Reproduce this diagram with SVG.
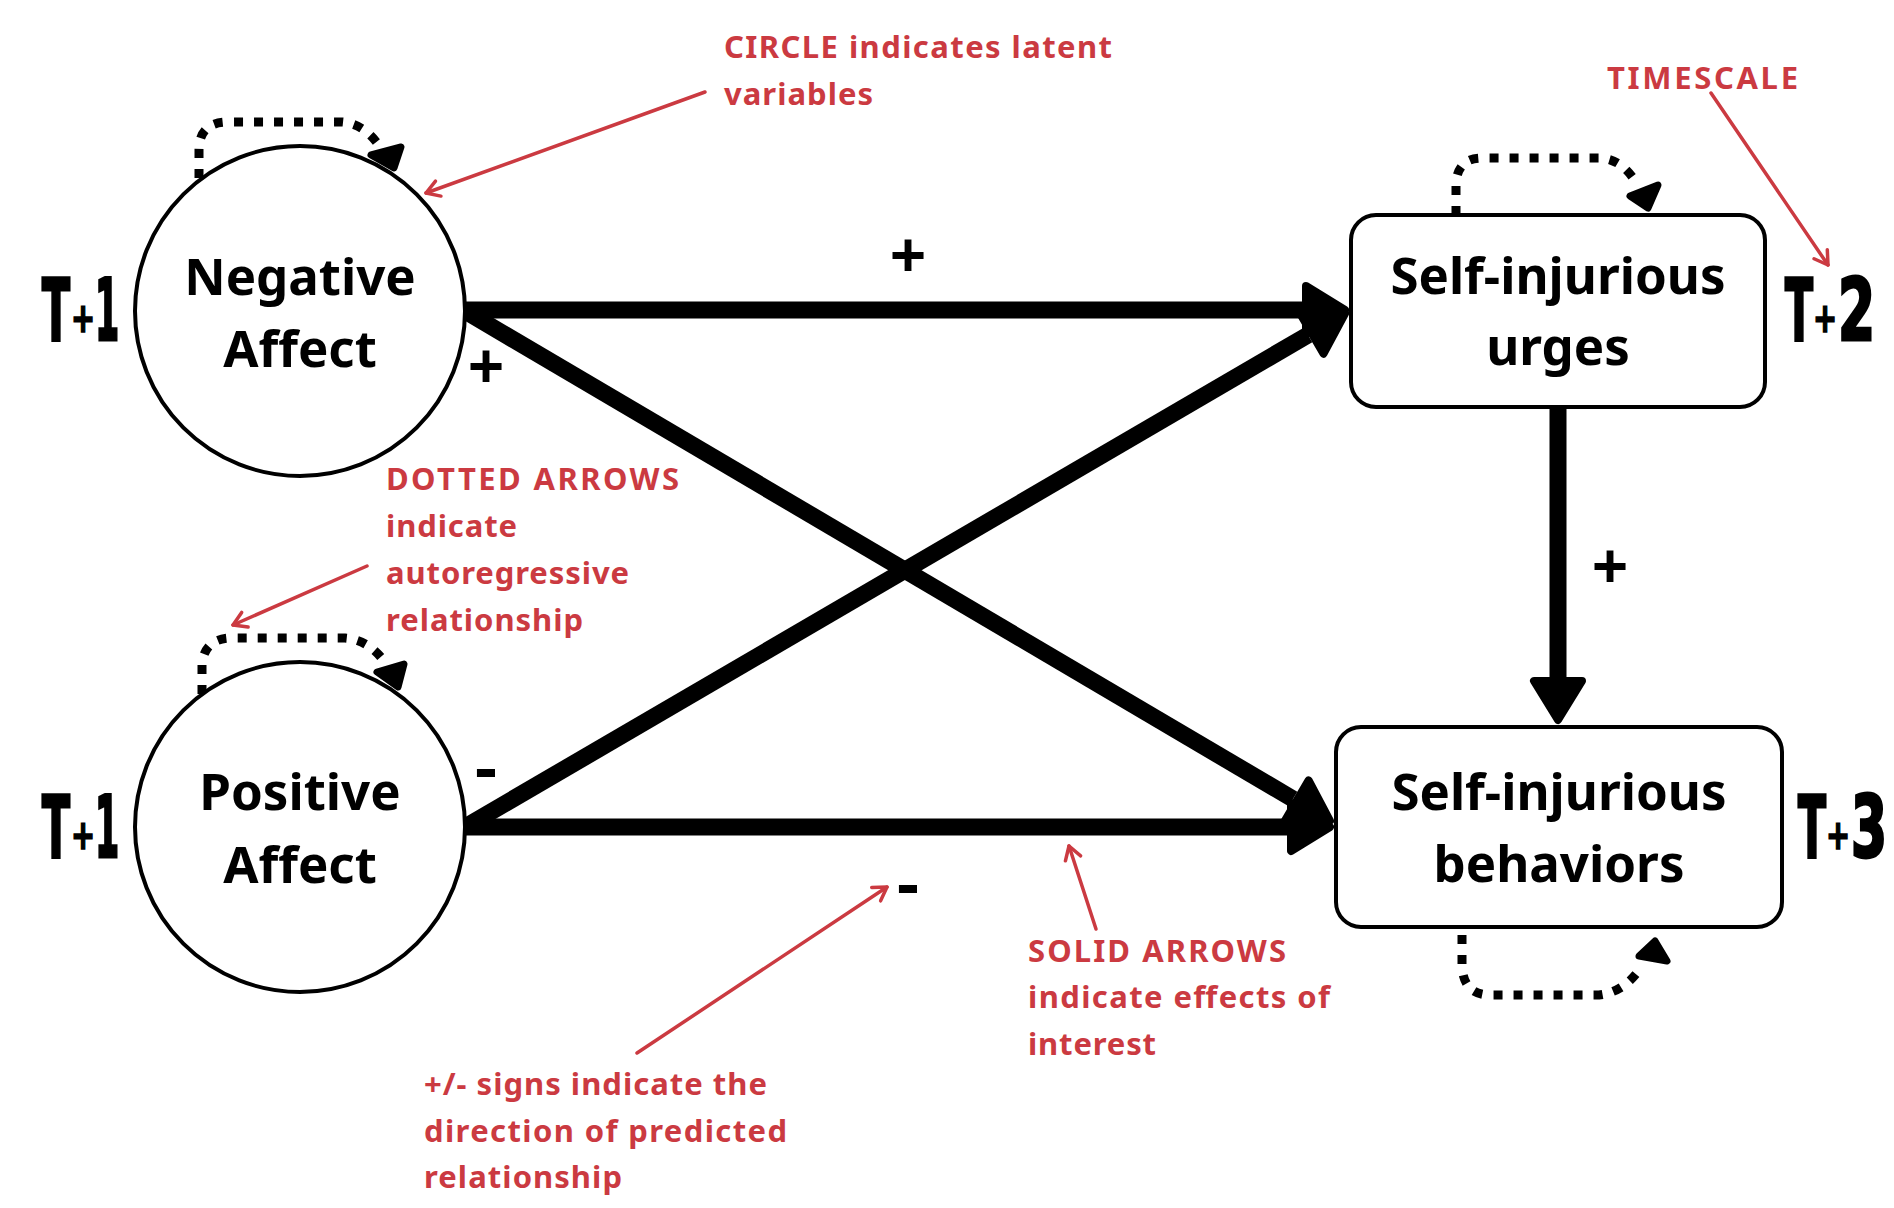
<svg xmlns="http://www.w3.org/2000/svg" width="1894" height="1208" viewBox="0 0 1894 1208">
<style>
.node{fill:#fff;stroke:#000;stroke-width:4}
.lbl{font-family:"Noto Sans","Open Sans",sans-serif;font-weight:700;font-size:51px;fill:#000;text-anchor:middle}
.tl{font-family:"DejaVu Sans Condensed","DejaVu Sans",sans-serif;font-weight:700;font-size:86px;fill:#000;stroke:#000;stroke-width:3}
.tp{font-family:"DejaVu Sans Condensed","DejaVu Sans",sans-serif;font-weight:700;font-size:40px;fill:#000;stroke:#000;stroke-width:1.5}
.sign{font-family:"Noto Sans","Open Sans",sans-serif;font-weight:700;font-size:64px;fill:#000;text-anchor:middle}
.note{font-family:"Noto Sans","Open Sans",sans-serif;font-weight:700;font-size:31px;fill:#cb3a41}
.main{fill:none;stroke:#000;stroke-width:17}
.loop{fill:none;stroke:#000;stroke-width:9;stroke-dasharray:9 11}
.lhead{fill:#000;stroke:#000;stroke-width:7;stroke-linejoin:round}
.red{fill:none;stroke:#cb3a41;stroke-width:3.5;stroke-linecap:round}
</style>
<defs>
<marker id="hd" markerUnits="userSpaceOnUse" viewBox="-6 -32 60 64" markerWidth="60" markerHeight="64" refX="0" refY="0" orient="auto" overflow="visible">
<path d="M4,-24 L43,0 L4,24 Z" fill="#000" stroke="#000" stroke-width="8" stroke-linejoin="round"/>
</marker>
<marker id="rh" markerUnits="userSpaceOnUse" viewBox="-16 -10 20 20" markerWidth="20" markerHeight="20" refX="0" refY="0" orient="auto" overflow="visible">
<path d="M-13,-8 L0,0 L-13,8" fill="none" stroke="#cb3a41" stroke-width="3.5" stroke-linecap="round" stroke-linejoin="round"/>
</marker>
</defs>

<g id="connectors">
<path class="main" d="M465,310 H1302" marker-end="url(#hd)"/>
<path class="main" d="M465,311 L1293,799" marker-end="url(#hd)"/>
<path class="main" d="M465,827 L1308,335" marker-end="url(#hd)"/>
<path class="main" d="M465,827 H1287" marker-end="url(#hd)"/>
<path class="main" d="M1558,407 V677" marker-end="url(#hd)"/>

<path class="loop" d="M199,178 V150 Q199,122 228,122 H342 Q366,124 382,150"/>
<polygon class="lhead" points="371,155 401,147 394,168"/>
<path class="loop" d="M202,694 V665 Q204,638 232,638 H345 Q370,640 386,664"/>
<polygon class="lhead" points="377,672 404,664 398,687"/>
<path class="loop" d="M1456,215 V183 Q1458,158 1482,158 H1601 Q1624,160 1638,186"/>
<polygon class="lhead" points="1630,196 1658,185 1648,208"/>
<path class="loop" d="M1462,935 V967 Q1464,995 1490,995 H1599 Q1625,992 1642,966"/>
<polygon class="lhead" points="1639,956 1655,941 1667,961"/>

<path class="red" d="M705,92 L426,193" marker-end="url(#rh)"/>
<path class="red" d="M367,566 L233,625" marker-end="url(#rh)"/>
<path class="red" d="M637,1053 L887,887" marker-end="url(#rh)"/>
<path class="red" d="M1096,929 L1069,846" marker-end="url(#rh)"/>
<path class="red" d="M1711,93 L1828,265" marker-end="url(#rh)"/>
</g>

<g id="negative-affect">
<circle class="node" cx="300" cy="311" r="165"/>
<text class="lbl" x="300" y="295">Negative</text>
<text class="lbl" x="300" y="367">Affect</text>
</g>
<g id="positive-affect">
<circle class="node" cx="300" cy="827" r="165"/>
<text class="lbl" x="300" y="810">Positive</text>
<text class="lbl" x="300" y="883">Affect</text>
</g>
<g id="urges">
<rect class="node" x="1351" y="215" width="414" height="192" rx="25"/>
<text class="lbl" x="1558" y="294">Self-injurious</text>
<text class="lbl" x="1558" y="365">urges</text>
</g>
<g id="behaviors">
<rect class="node" x="1336" y="727" width="446" height="200" rx="25"/>
<text class="lbl" x="1559" y="810">Self-injurious</text>
<text class="lbl" x="1559" y="882">behaviors</text>
</g>

<g id="timescale">
<text class="tl" transform="translate(42,340) scale(0.53,1)">T</text>
<text class="tp" transform="translate(71,332) scale(0.8,1)">+</text>
<text class="tl" transform="translate(95,340) scale(0.45,1)">1</text>

<text class="tl" transform="translate(42,857) scale(0.53,1)">T</text>
<text class="tp" transform="translate(71,849) scale(0.8,1)">+</text>
<text class="tl" transform="translate(95,857) scale(0.45,1)">1</text>

<text class="tl" transform="translate(1785,340) scale(0.53,1)">T</text>
<text class="tp" transform="translate(1813,332) scale(0.8,1)">+</text>
<text class="tl" transform="translate(1838,340) scale(0.69,1)">2</text>

<text class="tl" transform="translate(1798,857) scale(0.53,1)">T</text>
<text class="tp" transform="translate(1826,849) scale(0.8,1)">+</text>
<text class="tl" transform="translate(1851,857) scale(0.67,1)">3</text>
</g>

<g id="signs">
<text class="sign" x="908" y="278">+</text>
<text class="sign" x="486" y="389">+</text>
<text class="sign" x="1610" y="589">+</text>
<text class="sign" x="486" y="790" textLength="22" lengthAdjust="spacingAndGlyphs">-</text>
<text class="sign" x="908" y="906" textLength="22" lengthAdjust="spacingAndGlyphs">-</text>
</g>

<g id="notes">
<text class="note" x="724" y="58" textLength="388">CIRCLE indicates latent</text>
<text class="note" x="724" y="105" textLength="149">variables</text>
<text class="note" x="386" y="490" textLength="293">DOTTED ARROWS</text>
<text class="note" x="386" y="537" textLength="131">indicate</text>
<text class="note" x="386" y="584" textLength="243">autoregressive</text>
<text class="note" x="386" y="631" textLength="197">relationship</text>
<text class="note" x="424" y="1095" textLength="343">+/- signs indicate the</text>
<text class="note" x="424" y="1142" textLength="363">direction of predicted</text>
<text class="note" x="424" y="1188" textLength="198">relationship</text>
<text class="note" x="1028" y="962" textLength="258">SOLID ARROWS</text>
<text class="note" x="1028" y="1008" textLength="302">indicate effects of</text>
<text class="note" x="1028" y="1055" textLength="128">interest</text>
<text class="note" x="1607" y="89" textLength="191">TIMESCALE</text>
</g>
</svg>
